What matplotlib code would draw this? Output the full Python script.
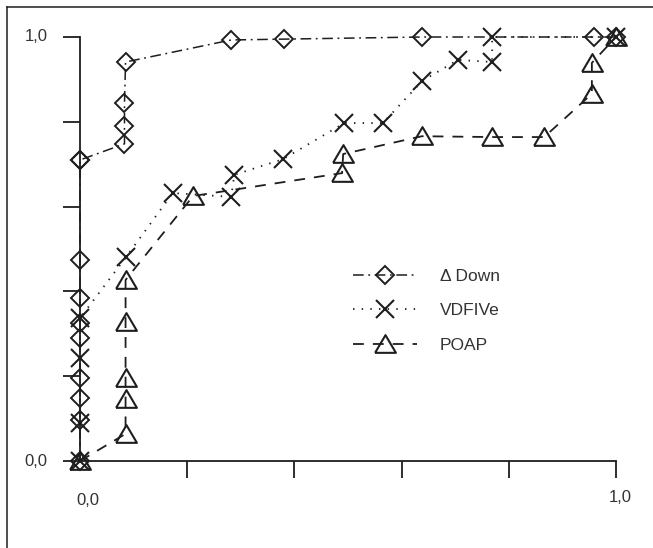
import matplotlib
matplotlib.use('Agg')
import matplotlib.pyplot as plt
from matplotlib.lines import Line2D

plt.rcParams['font.family'] = ['Liberation Sans', 'DejaVu Sans']

# ROC curves: false positive rate (x) vs sensitivity (y)
down_x = [0.0, 0.0, 0.0, 0.0, 0.0, 0.0, 0.0, 0.0, 0.0, 0.0,
          0.083, 0.083, 0.083, 0.085, 0.282, 0.381, 0.638, 0.959, 1.0]
down_y = [0.0, 0.097, 0.149, 0.196, 0.29, 0.325, 0.384, 0.474, 0.71, 0.71,
          0.748, 0.79, 0.844, 0.941, 0.993, 0.995, 1.0, 1.0, 1.0]

vdf_x = [0.0, 0.0, 0.0, 0.0, 0.086, 0.173, 0.282, 0.288, 0.379,
         0.493, 0.565, 0.638, 0.705, 0.769, 0.769, 1.0]
vdf_y = [0.0, 0.09, 0.243, 0.337, 0.481, 0.632, 0.623, 0.675, 0.712,
         0.797, 0.797, 0.896, 0.946, 0.941, 1.0, 1.0]

poap_x = [0.0, 0.085, 0.085, 0.085, 0.085, 0.085, 0.211, 0.489, 0.491,
          0.638, 0.769, 0.866, 0.955, 0.955, 1.0]
poap_y = [0.0, 0.064, 0.146, 0.196, 0.328, 0.427, 0.625, 0.679, 0.724,
          0.766, 0.764, 0.764, 0.866, 0.939, 1.0]

series_labels = ['\u0394 Down', 'VDFIVe', 'POAP']

ink = '#1e1e1e'
tri = [(-1.0, -0.8), (1.0, -0.8), (0.0, 0.9), (-1.0, -0.8)]

fig = plt.figure(figsize=(6.53, 5.48), dpi=100)
ax = fig.add_axes([80 / 653, 87 / 548, 536 / 653, 424 / 548])

ax.plot(down_x, down_y, color=ink, lw=1.1, dashes=(7, 3, 1.2, 3),
        marker='D', ms=9, mew=1.4, fillstyle='none', clip_on=False,
        label=series_labels[0])
ax.plot(vdf_x, vdf_y, color=ink, lw=1.3, dashes=(0.8, 4),
        marker='x', ms=13, mew=1.5, clip_on=False,
        label=series_labels[1])
ax.plot(poap_x, poap_y, color=ink, lw=1.3, dashes=(6, 5),
        marker=tri, ms=15, mew=1.5, fillstyle='none', clip_on=False,
        label=series_labels[2])

ax.set_xlim(0, 1)
ax.set_ylim(0, 1)
for side in ['top', 'right']:
    ax.spines[side].set_visible(False)
for side in ['left', 'bottom']:
    ax.spines[side].set_linewidth(1.3)
    ax.spines[side].set_color(ink)

ax.set_xticks([0.2, 0.4, 0.6, 0.8, 1.0])
ax.set_yticks([0.0, 0.2, 0.4, 0.6, 0.8, 1.0])
ax.set_xticklabels([])
ax.set_yticklabels([])
ax.tick_params(direction='out', length=12.5, width=1.3, color=ink)

# only the ends of each axis carry a label
lab = dict(fontsize=12, color='#333333')
ax.text(-0.06, 0.0, '0,0', transform=ax.transAxes, ha='right', va='center', **lab)
ax.text(-0.06, 1.0, '1,0', transform=ax.transAxes, ha='right', va='center', **lab)
ax.text(0.014, -0.092, '0,0', transform=ax.transAxes, ha='center', va='center', **lab)
ax.text(1.007, -0.087, '1,0', transform=ax.transAxes, ha='center', va='center', **lab)

ax.legend(loc='upper left', bbox_to_anchor=(353 / 653, 279 / 548),
          bbox_transform=fig.transFigure, frameon=False, fontsize=12.5,
          handlelength=3.7, handletextpad=1.3, labelspacing=1.1,
          borderpad=0, borderaxespad=0, labelcolor='#333333')

# outer frame (top and left edges only)
fig.add_artist(Line2D([7 / 653, 1.0], [1 - 7 / 548, 1 - 7 / 548],
                      transform=fig.transFigure, color=ink, lw=1.1))
fig.add_artist(Line2D([7 / 653, 7 / 653], [0.0, 1 - 7 / 548],
                      transform=fig.transFigure, color=ink, lw=1.1))

fig.savefig('out.png', dpi=100)
